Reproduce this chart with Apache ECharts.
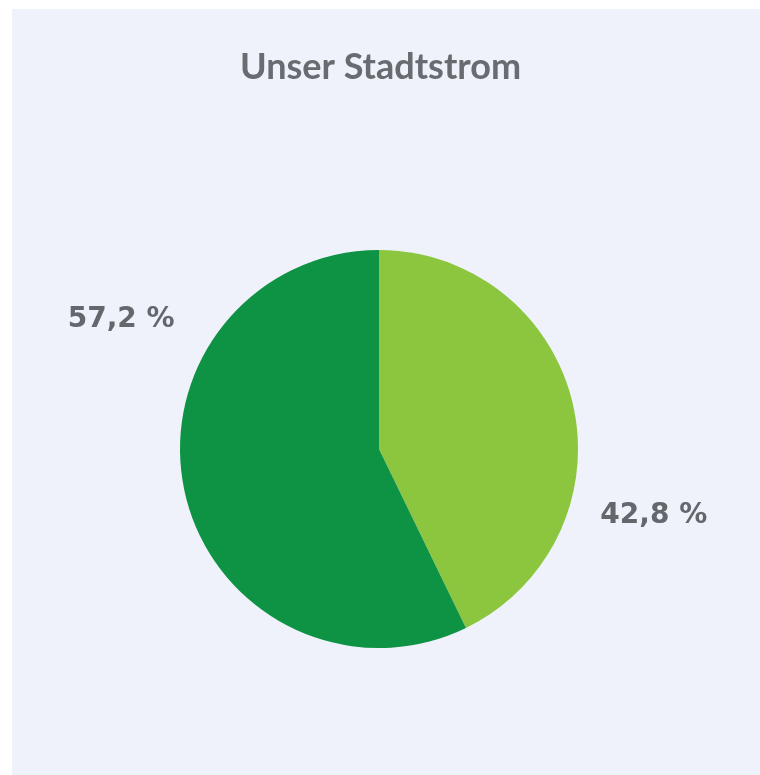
<!DOCTYPE html>
<html>
<head>
<meta charset="utf-8">
<script src="https://cdn.jsdelivr.net/npm/echarts@6/dist/echarts.min.js"></script>
<style>
  html, body { margin: 0; padding: 0; background: #ffffff; }
  #chart { position: absolute; left: 12px; top: 9px; width: 748px; height: 766px; background: #eff2fa; }
</style>
</head>
<body>
<div id="chart"></div>
<script>
const titleText = 'Unser Stadtstrom';
const categories = ['Anteil A', 'Anteil B'];
const values = [42.8, 57.2];
const colors = ['#8cc63f', '#0d9343'];
// label anchor positions as fraction of chart size
const labelAnchors = [[0.858, 0.661], [0.146, 0.406]];

const chart = echarts.init(document.getElementById('chart'), null, { renderer: 'canvas' });
const W = 748, H = 766;
chart.setOption({
  backgroundColor: '#eff2fa',
  animation: false,
  title: {
    text: titleText,
    left: 223,
    top: 35,
    textStyle: { fontFamily: 'Lato', fontWeight: 'bold', fontSize: 36, color: '#676c70' }
  },
  series: [{
    type: 'pie',
    center: [367, 440],
    radius: 199,
    startAngle: 90,
    clockwise: true,
    data: categories.map((c, i) => ({ name: c, value: values[i], itemStyle: { color: colors[i] } })),
    label: {
      show: true,
      position: 'outside',
      formatter: p => p.value.toFixed(1).replace('.', ',') + ' %',
      fontFamily: 'DejaVu Sans',
      fontWeight: 'bold',
      fontSize: 28,
      color: '#62686b'
    },
    labelLine: { show: false },
    labelLayout: function (params) {
      const a = labelAnchors[params.dataIndex];
      return { x: a[0] * W, y: a[1] * H, align: 'center', verticalAlign: 'middle' };
    },
    emphasis: { disabled: true }
  }]
});
</script>
</body>
</html>
